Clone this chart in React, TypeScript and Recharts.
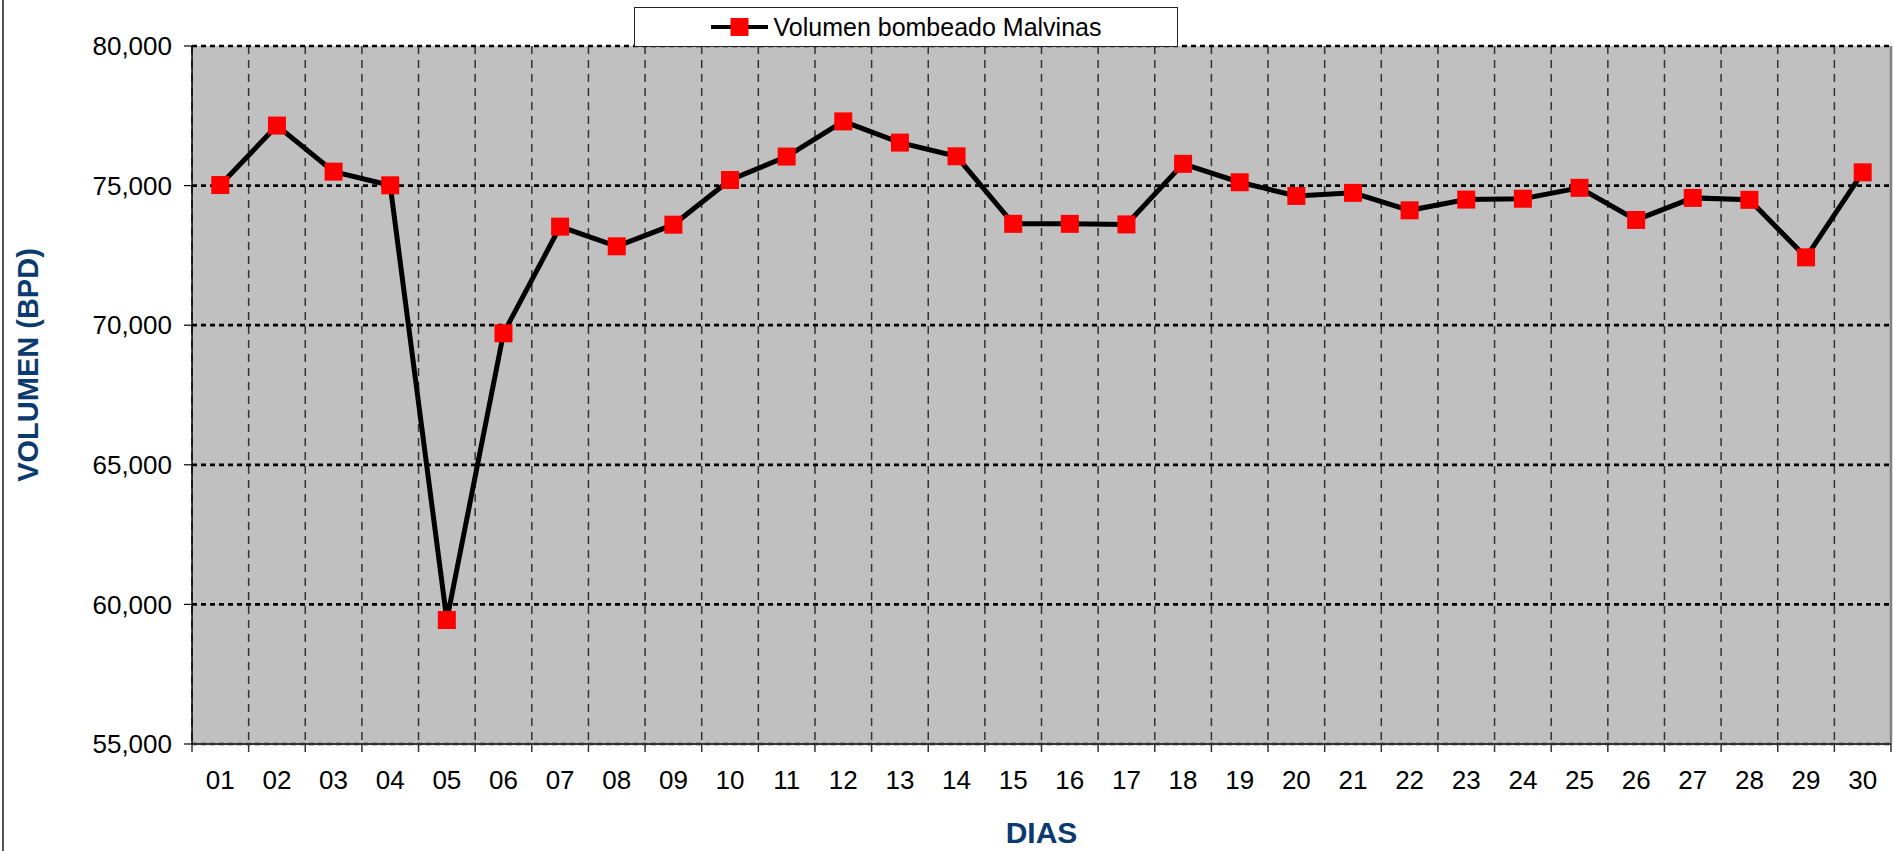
import { LineChart, Line, XAxis, YAxis, CartesianGrid, Legend, ReferenceLine } from "recharts";

// daily pumped volume, BPD
const days = [
    "01", "02", "03", "04", "05", "06", "07", "08", "09", "10",
    "11", "12", "13", "14", "15", "16", "17", "18", "19", "20",
    "21", "22", "23", "24", "25", "26", "27", "28", "29", "30",
];
const volumes = [
    75020, 77150, 75500, 75010, 59440, 69710, 73530, 72825, 73600, 75200,
    76040, 77300, 76540, 76050, 73630, 73630, 73610, 75780, 75120, 74630,
    74740, 74115, 74500, 74530, 74920, 73770, 74560, 74490, 72430, 75475,
];
const yTicks = [55000, 60000, 65000, 70000, 75000, 80000];
const seriesName = "Volumen bombeado Malvinas";
const xTitle = "DIAS";
const yTitle = "VOLUMEN (BPD)";

const data = days.map((day, i) => ({ x: i + 1, day, volume: volumes[i] }));
const dayTicks = data.map((d) => d.x);
const edgeTicks = [0.5, ...dayTicks.map((x) => x + 0.5)];
const xDomain = [0.5, days.length + 0.5];

const FONT = '"Liberation Sans", Arial, sans-serif';
const TITLE_BLUE = "#0B3A6E";
const TICK_MARGIN = 27;

const SquareDot = (props: any) => {
    const { cx, cy, index } = props;
    if (cx == null || cy == null) return null;
    return <rect key={`dot-${index}`} x={cx - 9} y={cy - 9} width={18} height={18} fill="#FF0000" />;
};

// label in the middle of each day, tick mark on the day boundary
const DayTick = (props: any) => {
    const { x, y, payload, index, width } = props;
    const half = (width || 1699) / days.length / 2;
    const axisY = y - TICK_MARGIN;
    return (
        <g>
            {index === 0 && <line x1={x - half} x2={x - half} y1={axisY} y2={axisY + 8} stroke="#333" strokeWidth={1.5} />}
            <line x1={x + half} x2={x + half} y1={axisY} y2={axisY + 8} stroke="#333" strokeWidth={1.5} />
            <text x={x} y={y} dy="0.71em" textAnchor="middle" fill="#000" fontSize={26}>
                {days[payload.value - 1]}
            </text>
        </g>
    );
};

// vertical grid at the day boundaries
const boundaryLines = ({ xAxis, offset }: any) => {
    if (xAxis && typeof xAxis.scale === "function") {
        return edgeTicks.map((t) => xAxis.scale(t));
    }
    const step = offset.width / days.length;
    return edgeTicks.map((_, i) => offset.left + i * step);
};

const LegendBox = () => (
    <div
        style={{
            boxSizing: "border-box",
            width: 544,
            height: 40,
            border: "1px solid #222",
            background: "#fff",
            display: "flex",
            alignItems: "center",
            justifyContent: "center",
            fontFamily: FONT,
            fontSize: 25,
            color: "#000",
        }}
    >
        <svg width={57} height={18}>
            <line x1={0} y1={9} x2={57} y2={9} stroke="#000" strokeWidth={4} />
            <rect x={19.5} y={0} width={18} height={18} fill="#FF0000" />
        </svg>
        <span style={{ marginLeft: 6 }}>{seriesName}</span>
    </div>
);

const App = () => {
    return (
        <div style={{ position: "absolute", left: 0, top: 0, width: 1894, height: 851, background: "#fff" }}>
            <div style={{ position: "absolute", left: 2, top: 0, width: 2, height: 851, background: "#555" }} />
            <LineChart
                width={1894}
                height={851}
                data={data}
                margin={{ top: 46, right: 3, left: 0, bottom: 106 }}
                style={{ fontFamily: FONT }}
            >
                <CartesianGrid
                    horizontal={false}
                    fill="#C0C0C0"
                    stroke="#333"
                    strokeDasharray="8 6"
                    strokeWidth={1.5}
                    verticalCoordinatesGenerator={boundaryLines}
                />
                <CartesianGrid vertical={false} stroke="#000" strokeDasharray="5 4" strokeWidth={2.7} />

                <XAxis
                    dataKey="x"
                    type="number"
                    domain={xDomain}
                    ticks={dayTicks}
                    interval={0}
                    height={1}
                    tickSize={0}
                    tickMargin={TICK_MARGIN}
                    tickLine={false}
                    axisLine={{ stroke: "#333", strokeWidth: 2 }}
                    tick={DayTick}
                    label={{
                        content: (p: any) => {
                            const vb = p.viewBox || {};
                            return (
                                <text
                                    x={vb.x + vb.width / 2}
                                    y={vb.y + 99}
                                    textAnchor="middle"
                                    fill={TITLE_BLUE}
                                    fontSize={30}
                                    fontWeight="bold"
                                >
                                    {xTitle}
                                </text>
                            );
                        },
                    }}
                />
                <YAxis
                    type="number"
                    domain={[55000, 80000]}
                    ticks={yTicks}
                    width={192}
                    tickSize={8}
                    tickMargin={12}
                    tickLine={{ stroke: "#000", strokeWidth: 1.2 }}
                    axisLine={{ stroke: "#000", strokeWidth: 1.5 }}
                    tick={{ fill: "#000", fontSize: 26 }}
                    tickFormatter={(v: number) => v.toLocaleString("en-US")}
                    label={{
                        content: (p: any) => {
                            const vb = p.viewBox || {};
                            const x = vb.x + 38;
                            const y = vb.y + vb.height / 2 - 30;
                            return (
                                <text
                                    x={x}
                                    y={y}
                                    transform={`rotate(-90, ${x}, ${y})`}
                                    textAnchor="middle"
                                    fill={TITLE_BLUE}
                                    fontSize={29}
                                    fontWeight="bold"
                                >
                                    {yTitle}
                                </text>
                            );
                        },
                    }}
                />

                {/* plot frame on the right */}
                <ReferenceLine x={xDomain[1]} stroke="#808080" strokeWidth={2.5} />

                <Legend
                    layout="horizontal"
                    verticalAlign="middle"
                    align="center"
                    content={<LegendBox />}
                    wrapperStyle={{ top: 7, left: 634, width: 544, height: 40 }}
                />

                <Line
                    type="linear"
                    dataKey="volume"
                    name={seriesName}
                    stroke="#000"
                    strokeWidth={5}
                    dot={SquareDot}
                    activeDot={false}
                    isAnimationActive={false}
                />
            </LineChart>
        </div>
    );
};

export default App;
